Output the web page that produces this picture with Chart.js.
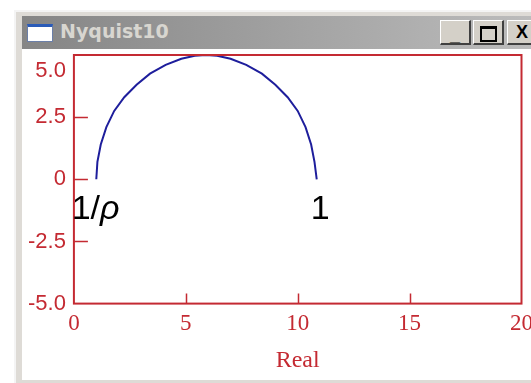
<!DOCTYPE html>
<html>
<head>
<meta charset="utf-8">
<title>Nyquist10</title>
<script src="https://cdn.jsdelivr.net/npm/chart.js@4"></script>
<style>
  html, body { margin: 0; padding: 0; background: #fff; width: 531px; height: 383px; overflow: hidden; }
  #win { position: absolute; left: 14px; top: 10px; width: 530px; height: 373px; background: #dedbd6;
         border-left: 2px solid #f4f4f4; border-top: 2px solid #f4f4f4; box-sizing: border-box; }
  #titlebar { position: absolute; left: 22px; top: 16px; width: 520px; height: 33px;
              background: linear-gradient(to right, #858585, #bdbdbd); }
  #icon { position: absolute; left: 5px; top: 8px; width: 26px; height: 18px; background: #fff;
          border-top: 3px solid #2a5bb8; border-left: 1px solid #6b7fa8; border-right: 1px solid #6b7fa8;
          border-bottom: 1px solid #6b7fa8; box-sizing: border-box; }
  #title { position: absolute; left: 38px; top: 4px; font: bold 19px "DejaVu Sans", sans-serif; color: #d8d6d0; }
  .btn { position: absolute; top: 4px; width: 31px; height: 25px; background: #d4d0c8; box-sizing: border-box;
         border-top: 1px solid #fff; border-left: 1px solid #fff; border-right: 2px solid #404040;
         border-bottom: 2px solid #404040; font: bold 18px "Liberation Sans", sans-serif; color: #000;
         text-align: center; line-height: 22px; }
  #client { position: absolute; left: 22px; top: 49px; width: 520px; height: 331px; background: #fff; }
  #chart { position: absolute; left: 0; top: 0; }
</style>
</head>
<body>
<div id="win"></div>
<div id="titlebar">
  <div id="icon"></div>
  <div id="title">Nyquist10</div>
  <div class="btn" style="left:418px"><span style="position:relative;top:3px">_</span></div>
  <div class="btn" style="left:451px"><span style="display:inline-block;width:13px;height:11px;border:2px solid #000;border-top-width:3px;margin-top:5px"></span></div>
  <div class="btn" style="left:485px">X</div>
</div>
<div id="client"></div>
<!-- canvas runs a little past the window edge so the "20" label is cut off there -->
<canvas id="chart" width="540" height="383"></canvas>
<script>
// Nyquist locus: real and imaginary parts read along the half circle
const realPart = [1.0, 1.05, 1.2, 1.45, 1.8, 2.25, 2.8, 3.4, 4.1, 4.8, 5.4, 5.9, 6.4, 7.0, 7.7, 8.4, 9.0, 9.55, 10.0, 10.35, 10.6, 10.75, 10.85];
const imagPart = [0.0, 0.7, 1.4, 2.1, 2.75, 3.3, 3.8, 4.25, 4.6, 4.85, 4.97, 5.0, 4.97, 4.85, 4.6, 4.25, 3.8, 3.3, 2.75, 2.1, 1.4, 0.7, 0.0];

// axis ranges and tick steps
const realTicks = [0, 5, 10, 15, 20];
const imagTicks = [-5, -2.5, 0, 2.5, 5];

// labels at the two ends of the locus
const noteText = ['1/', '1'];
const noteItalic = ['ρ', ''];
const noteX = [-0.1, 11.0];
const noteY = [-1.6, -1.6];
const noteAlign = ['left', 'center'];

const red = '#c42a32';
const blue = '#1e1e9c';
const yFont = '22px "Liberation Sans", sans-serif';

const points = realPart.map((re, i) => ({ x: re, y: imagPart[i] }));
const fmtImag = v => (v === 0 ? '0' : v.toFixed(1));

// red box round the plot, short ticks pointing inward, and the end labels
const framePlugin = {
  id: 'frame',
  afterDraw(chart) {
    const ctx = chart.ctx;
    const a = chart.chartArea;
    const xs = chart.scales.x, ys = chart.scales.y;
    ctx.save();
    ctx.strokeStyle = red;
    ctx.lineWidth = 2;
    ctx.strokeRect(a.left, a.top, a.right - a.left, a.bottom - a.top);
    ctx.lineWidth = 1.5;
    ctx.beginPath();
    xs.ticks.forEach(t => {
      if (t.value === xs.min || t.value === xs.max) return;
      const px = Math.round(xs.getPixelForValue(t.value)) + 0.5;
      ctx.moveTo(px, a.bottom);
      ctx.lineTo(px, a.bottom - 10);
    });
    ys.ticks.forEach(t => {
      if (t.value === ys.min || t.value === ys.max) return;
      const py = Math.round(ys.getPixelForValue(t.value)) + 0.5;
      ctx.moveTo(a.left, py);
      ctx.lineTo(a.left + 14, py);
    });
    ctx.stroke();

    // top y label sits a bit lower so it clears the title bar
    ctx.fillStyle = red;
    ctx.font = yFont;
    ctx.textAlign = 'right';
    ctx.textBaseline = 'middle';
    ctx.fillText(fmtImag(ys.max), a.left - 8, ys.getPixelForValue(ys.max) + 16);

    ctx.fillStyle = '#000';
    ctx.textBaseline = 'alphabetic';
    noteText.forEach((txt, i) => {
      const px = xs.getPixelForValue(noteX[i]);
      const py = ys.getPixelForValue(noteY[i]);
      ctx.font = '34px "Liberation Sans", sans-serif';
      const w1 = ctx.measureText(txt).width;
      ctx.font = 'italic 34px "Liberation Sans", sans-serif';
      const w2 = ctx.measureText(noteItalic[i]).width;
      const x0 = noteAlign[i] === 'center' ? px - (w1 + w2) / 2 : px;
      ctx.textAlign = 'left';
      ctx.font = '34px "Liberation Sans", sans-serif';
      ctx.fillText(txt, x0, py);
      ctx.font = 'italic 34px "Liberation Sans", sans-serif';
      ctx.fillText(noteItalic[i], x0 + w1, py);
    });
    ctx.restore();
  }
};

new Chart(document.getElementById('chart'), {
  type: 'scatter',
  data: {
    datasets: [{
      data: points,
      showLine: true,
      borderColor: blue,
      borderWidth: 2,
      pointRadius: 0,
      tension: 0,
      fill: false
    }]
  },
  options: {
    responsive: false,
    animation: false,
    events: [],
    layout: { autoPadding: false, padding: { left: 20, top: 55, right: 0, bottom: 8 } },
    plugins: { legend: { display: false }, tooltip: { enabled: false } },
    scales: {
      x: {
        type: 'linear',
        min: realTicks[0],
        max: realTicks[realTicks.length - 1],
        afterBuildTicks: s => { s.ticks = realTicks.map(v => ({ value: v })); },
        grid: { display: false, drawTicks: false },
        border: { display: false },
        ticks: {
          color: red,
          padding: 7,
          maxRotation: 0,
          font: { family: '"Liberation Serif", serif', size: 23 }
        },
        title: {
          display: true,
          text: 'Real',
          color: red,
          padding: { top: 1, bottom: 0 },
          font: { family: '"Liberation Serif", serif', size: 24 }
        }
      },
      y: {
        type: 'linear',
        min: imagTicks[0],
        max: imagTicks[imagTicks.length - 1],
        afterBuildTicks: s => { s.ticks = imagTicks.map(v => ({ value: v })); },
        grid: { display: false, drawTicks: false },
        border: { display: false },
        ticks: {
          color: red,
          padding: 8,
          font: { family: '"Liberation Sans", sans-serif', size: 22 },
          // the top label is drawn by the frame plugin
          callback: v => (v === imagTicks[imagTicks.length - 1] ? '' : fmtImag(v))
        }
      }
    }
  },
  plugins: [framePlugin]
});
</script>
</body>
</html>
